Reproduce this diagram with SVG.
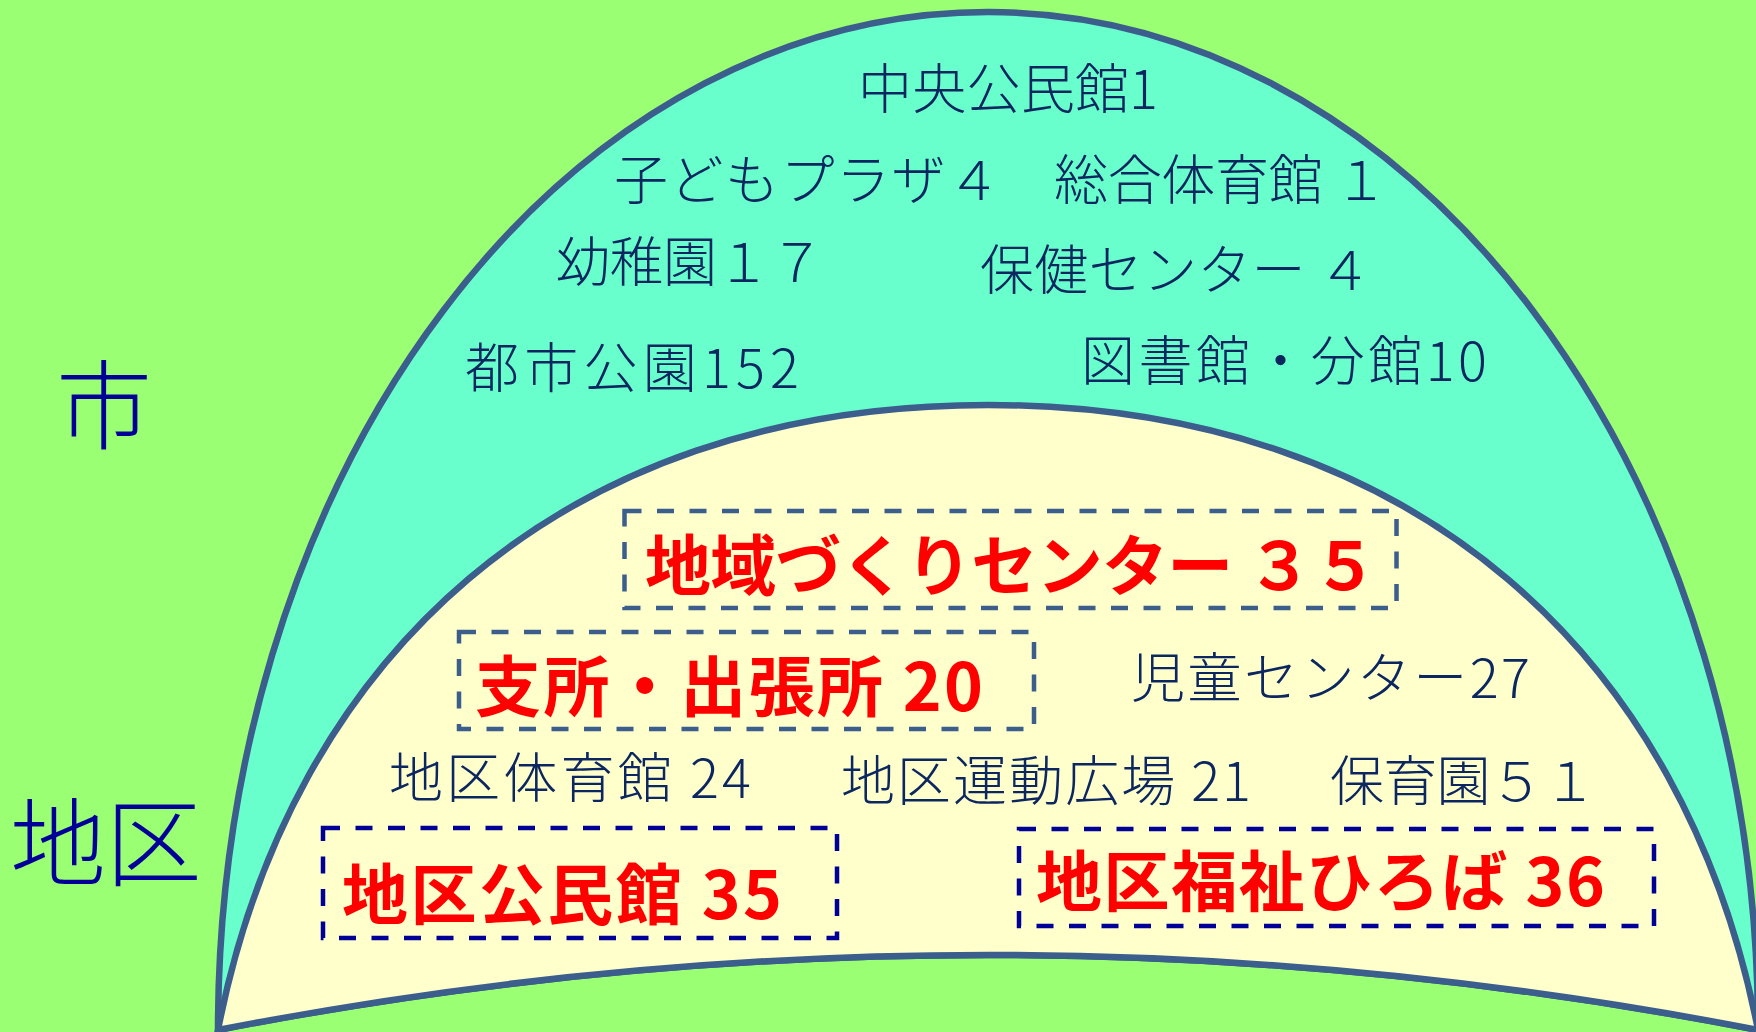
<svg xmlns="http://www.w3.org/2000/svg" width="1756" height="1032" viewBox="0 0 1756 1032">
<style>
.dome{stroke:#3B5E8C;stroke-width:6.5;stroke-linejoin:miter;stroke-miterlimit:20}
.t{font-family:"Noto Sans CJK JP","Noto Sans",sans-serif;}
.navy{fill:#0C2660;font-size:54px;font-weight:300}
.red{fill:#FF0000;font-size:66px;font-weight:700}
.lbl{fill:#000099;font-size:96px;font-weight:300}
.boxA{fill:none;stroke:#3B5E8C;stroke-width:4.5;stroke-dasharray:17 15.5}
.boxB{fill:none;stroke:#000099;stroke-width:4.5;stroke-dasharray:17 15.5}
</style>
<rect x="0" y="0" width="1756" height="1032" fill="#9AFF72"/>
<g id="city-area">
<path class="dome" fill="#69FFCC" d="M218,1030 A770,1018 0 0 1 1758,1030 Q988,880 218,1030 Z"/>
</g>
<g id="district-area">
<path class="dome" fill="#FFFFCC" d="M218,1030 C290,660 558,405 988,405 C1418,405 1686,660 1758,1030 Q988,880 218,1030 Z"/>
</g>
<g id="connectors"></g>
<g id="label-city"><text class="t lbl" x="56" y="441">市</text></g>
<g id="label-district"><text class="t lbl" x="10" y="878">地区</text></g>
<g id="n-chuo"><text class="t navy" x="858" y="109" textLength="300">中央公民館1</text></g>
<g id="n-kodomo"><text class="t navy" x="614" y="200" textLength="387">子どもプラザ４</text></g>
<g id="n-sogo"><text class="t navy" x="1054" y="200" textLength="334">総合体育館 １</text></g>
<g id="n-yochien"><text class="t navy" x="556" y="282" textLength="268">幼稚園１７</text></g>
<g id="n-hoken"><text class="t navy" x="980" y="290" textLength="392">保健センター ４</text></g>
<g id="n-toshi"><text class="t navy" x="465" y="388" textLength="334">都市公園152</text></g>
<g id="n-tosho"><text class="t navy" x="1081" y="381" textLength="406">図書館・分館10</text></g>
<g id="n-chiiki">
<rect class="boxA" x="624.5" y="511" width="772" height="97"/>
<text class="t red" x="645" y="590" textLength="733">地域づくりセンター ３５</text>
</g>
<g id="n-shisho">
<rect class="boxA" x="459" y="632" width="575" height="97"/>
<text class="t red" x="475" y="711" textLength="508">支所・出張所 20</text>
</g>
<g id="n-jido"><text class="t navy" x="1131" y="698" textLength="399">児童センター27</text></g>
<g id="n-taiikukan"><text class="t navy" x="389" y="798" textLength="362">地区体育館 24</text></g>
<g id="n-undo"><text class="t navy" x="841" y="801" textLength="410">地区運動広場 21</text></g>
<g id="n-hoiku"><text class="t navy" x="1330" y="801" textLength="267">保育園５１</text></g>
<g id="n-kominkan">
<rect class="boxB" x="323" y="828" width="514" height="110"/>
<text class="t red" x="342" y="919" textLength="440">地区公民館 35</text>
</g>
<g id="n-fukushi">
<rect class="boxB" x="1019" y="829" width="635" height="97"/>
<text class="t red" x="1036" y="906" textLength="569">地区福祉ひろば 36</text>
</g>
</svg>
